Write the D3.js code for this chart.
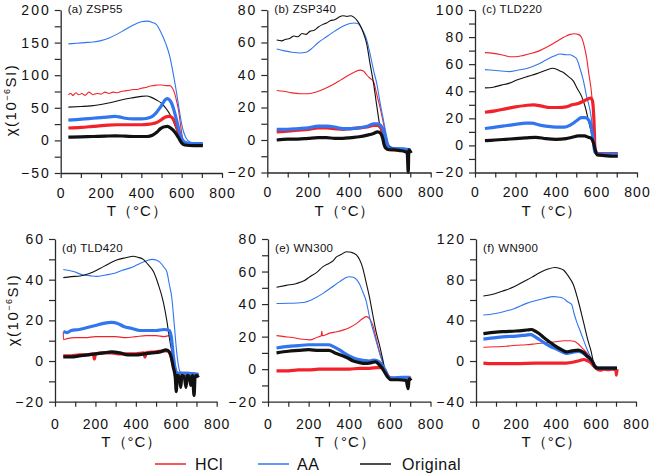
<!DOCTYPE html>
<html><head><meta charset="utf-8">
<script src="https://cdn.jsdelivr.net/npm/d3@7"></script>
<style>
body{margin:0;background:#fff}
svg{display:block}
text{font-family:"Liberation Sans",Arial,sans-serif;fill:#111}
</style>
</head><body>
<svg id="chart" width="651" height="476"></svg>
<script>
// ---------- data: [temperature °C, susceptibility 10^-6 SI] ----------
const seriesNames = ["HCl", "AA", "Original"];
const seriesColors = ["#f2222a", "#3176ee", "#111111"];
const xTickValues = [0, 100, 200, 300, 400, 500, 600, 700, 800];
const xTickLabels = ["0", "", "200", "", "400", "", "600", "", "800"];
const panelTitles = ["(a) ZSP55", "(b) ZSP340", "(c) TLD220", "(d) TLD420", "(e) WN300", "(f) WN900"];
const yDomains = [[-50, 200], [-20, 80], [-20, 100], [-20, 60], [-20, 80], [-40, 120]];
const yMajorSteps = [50, 20, 20, 20, 20, 40];

// (a) ZSP55
const aHclThin = [[38,70],[50,72],[60,69],[75,73],[90,70],[105,72],[120,69],[140,74],[160,70],[180,72],[200,71],[220,74],[240,72],[260,74],[280,73],[300,75],[320,76],[340,77],[360,78],[380,78],[400,80],[420,81],[440,83],[460,84],[480,85],[500,85],[520,84],[540,84],[555,80],[565,72],[575,60],[585,45],[595,22],[605,3],[615,-3],[640,-5],[680,-6],[705,-6]];
const aAaThin = [[38,148],[80,149],[120,150],[160,151],[200,153],[240,157],[280,163],[320,170],[360,177],[400,182],[430,183],[455,181],[474,178],[495,167],[523,147],[540,130],[556,106],[572,78],[589,45],[602,22],[614,9],[630,0],[655,-4],[705,-6]];
const aOrigThin = [[38,51],[100,52],[150,53],[200,55],[250,58],[300,62],[350,65],[400,67.5],[425,68],[450,66],[475,62],[500,57],[520,50],[540,41],[555,32],[570,20],[585,8],[600,-2],[615,-6],[650,-7],[705,-8]];
const aHclThick = [[38,19],[100,20],[160,21.5],[220,23],[280,24],[340,24],[400,24],[430,24.5],[460,26],[480,28],[500,32],[520,36],[535,37],[548,36],[560,32],[572,24],[582,14],[592,4],[602,-2],[615,-5],[660,-6],[705,-6]];
const aAaThick = [[38,31],[80,32],[120,33],[160,34],[200,35],[240,36],[270,37],[290,36],[320,34],[360,33],[400,33],[430,34],[450,36],[470,41],[490,49],[505,56],[518,62],[528,64],[540,62],[550,57],[560,48],[570,37],[580,24],[590,12],[600,3],[612,-2],[630,-4],[670,-5],[705,-5]];
const aOrigThick = [[38,5],[100,5.5],[160,6],[220,6.5],[270,7],[320,6.5],[380,6],[430,6],[455,8],[475,12],[495,18],[515,21],[530,21.5],[545,19],[560,15],[575,9],[590,1],[600,-4],[615,-7],[660,-8],[705,-8]];

// (b) ZSP340
const bHclThin = [[46,30.5],[80,30],[120,29],[160,28.5],[200,28.5],[240,29.5],[280,31.5],[320,34],[360,37],[400,40],[430,42],[455,43],[470,42.5],[487,40],[503,38],[520,36],[536,28],[552,20],[569,10],[585,0],[600,-4],[620,-5],[700,-5.5]];
const bAaThin = [[46,56],[80,55],[120,54],[160,53.5],[190,54],[220,56.5],[250,60],[290,63.5],[330,67],[370,70],[400,71.5],[425,72],[445,71.5],[460,69],[475,65.5],[487,61.5],[505,52],[520,43],[536,34.7],[552,23],[569,12],[585,2],[595,-3],[610,-4.5],[650,-5],[700,-5.5]];
const bOrigThin = [[46,61.5],[70,61],[90,62],[110,62.5],[130,64],[150,63.5],[170,65.5],[190,65],[210,67],[230,67.5],[250,69.5],[270,71],[290,72],[310,73.5],[330,74],[350,75.5],[370,76.5],[390,76],[410,76.5],[425,75.5],[440,73.5],[455,70.5],[470,66],[487,59],[503,47],[520,35],[536,21],[552,8],[565,2],[577,-2],[590,-4],[620,-5],[660,-5.5],[700,-6]];
const bHclThick = [[46,5],[100,5.5],[150,6],[200,6.5],[250,7.5],[290,7.5],[330,7],[370,6.5],[410,7],[450,7.5],[490,8],[520,9],[540,9],[555,7.5],[568,4],[578,-1],[588,-4.5],[600,-6],[700,-6.5]];
const bAaThick = [[46,6.5],[100,6.5],[150,7],[200,7.5],[250,8.5],[290,8.5],[330,8],[370,7],[410,7],[450,7.5],[490,8.5],[520,10],[540,10],[555,9],[568,6],[578,0],[588,-4],[600,-5.5],[650,-5.5],[700,-6]];
const bOrigThick = [[46,0],[100,0.5],[150,0.5],[200,1],[250,1.5],[290,1.5],[330,1],[370,1],[410,1.5],[450,2],[490,3],[520,4],[540,5],[555,4],[565,1],[572,-3],[580,-5],[595,-6],[620,-6],[650,-6.5],[670,-7],[685,-8],[690,-20],[693,-6],[700,-7],[705,-8]];

// (c) TLD220
const cHclThin = [[49,68.5],[90,68],[130,67],[170,65.5],[200,65.5],[240,66.5],[280,68],[320,70],[360,73],[400,76.5],[440,80],[470,82],[490,82.5],[510,82],[525,80],[540,73],[551,65],[563,52],[576,38],[585,20],[593,-4],[605,-6],[650,-6],[705,-6]];
const cAaThin = [[49,56],[90,55.5],[130,55],[170,54.5],[210,55.5],[260,57],[305,59.5],[350,63],[390,66],[420,67.5],[450,67],[470,67],[490,65.5],[502,64],[518,57],[535,48],[550,37],[568,26],[580,14],[592,-3],[605,-6.5],[650,-6.5],[705,-6]];
const cOrigThin = [[49,42.5],[90,43],[130,44.5],[170,46],[210,48.5],[260,51],[305,53],[350,55.5],[385,57],[400,56.5],[420,55],[440,53.5],[460,51],[486,47.5],[505,42],[527,36],[545,28],[560,18.5],[575,9],[585,2],[595,-5],[610,-7],[660,-7.5],[705,-8]];
const cHclThick = [[49,24.5],[100,25.5],[150,27],[200,28.5],[250,29.5],[290,30],[330,29],[370,28],[410,28],[450,28.5],[480,30],[510,31],[540,33],[560,34.5],[572,35],[580,33],[587,20],[593,-3],[605,-6],[650,-6],[705,-6]];
const cAaThick = [[49,12.5],[100,13.5],[150,14.5],[200,15.5],[250,16.5],[280,16.5],[320,15],[360,14],[400,13.5],[440,13.5],[470,15],[500,18],[525,20.5],[545,20.5],[560,19],[572,15],[582,6],[592,-5],[605,-6.5],[650,-6.5],[705,-6.5]];
const cOrigThick = [[49,3.5],[100,4],[150,4.5],[200,5],[250,5.5],[300,6],[350,5],[400,4.5],[450,5],[480,6],[510,7],[540,7],[560,6],[575,5],[585,2],[595,-4],[603,-7],[640,-7.5],[680,-8],[705,-8]];

// (d) TLD420
const dHclThin = [[41,14],[42,10.5],[60,11],[100,11.5],[150,11.5],[200,12],[250,12],[300,12],[350,11.5],[400,12],[450,12.5],[500,12.5],[540,12],[565,12.5],[575,10],[585,3],[595,-3],[605,-6],[660,-6],[710,-6.5]];
const dAaThin = [[41,45],[91,44],[140,42.3],[170,42],[206,41.6],[250,42.3],[289,43],[330,44.5],[388,46.4],[420,48],[454,49.3],[480,50],[503,49.5],[520,48.5],[540,46],[553,44],[565,38],[578,31],[590,18],[602,4.5],[612,-3],[622,-5.5],[660,-6],[710,-6.5]];
const dOrigThin = [[41,41],[80,41.5],[124,41.8],[170,43],[223,45.5],[260,47.5],[305,49.7],[350,50.8],[388,51.5],[410,51],[437,50],[460,47.5],[487,44],[510,38],[536,29],[553,20],[569,9.4],[582,3],[594,-2],[605,-6],[620,-7],[660,-7],[700,-7]];
const dHclThick = [[41,2.5],[80,2.5],[120,3],[160,3],[190,3.5],[195,1],[200,3.5],[240,4],[280,4],[320,3.5],[360,3.5],[400,3.5],[440,4],[445,2],[450,4],[500,4.5],[540,5],[560,5],[572,3],[585,-2],[595,-5],[605,-6],[660,-6],[710,-7]];
const dAaThick = [[41,14.5],[60,14],[80,15],[120,15.5],[160,16.5],[200,17.5],[240,18.5],[280,19],[310,18.5],[340,17],[380,16],[420,15],[460,15],[500,15],[540,15.5],[565,15],[575,12],[585,3],[595,-4],[605,-6],[650,-6],[710,-6.5]];
const dOrigThick = [[41,2],[80,2],[120,2.5],[160,3],[200,3.5],[240,4],[280,4.5],[320,4],[360,3],[400,3],[440,3.5],[480,4],[520,4.5],[550,5.5],[565,4.5],[575,2],[585,-3],[595,-8],[600,-15],[605,-7],[615,-8],[622,-13],[628,-7],[640,-8],[648,-13],[655,-7],[665,-8],[672,-12],[680,-7],[688,-17],[693,-8],[700,-7],[710,-8]];

// (e) WN300
const eHclThin = [[42,20.6],[80,20],[120,19.5],[160,18.5],[206,18],[240,19.5],[262,20.5],[265,23.5],[268,20.5],[300,22],[340,23],[369,24],[400,25.5],[435,28],[460,30.5],[484,32.3],[500,31],[516,27],[532,19],[549,10.7],[565,4],[582,-3.6],[600,-5.5],[700,-6]];
const eAaThin = [[42,40.4],[100,40.5],[173,41],[220,43],[271,46.6],[310,50],[353,53.8],[380,56],[402,56.8],[420,56.5],[435,55.2],[450,52.5],[465,48],[484,41.5],[500,32],[516,24.5],[533,17],[550,9.5],[565,4],[582,-3],[600,-5.5],[650,-6],[700,-6]];
const eOrigThin = [[42,50.3],[90,51.5],[141,52.7],[180,54.5],[206,56.8],[240,59.5],[271,63],[300,65],[320,66.5],[337,69],[360,70.5],[386,72.2],[410,71.8],[435,70.2],[450,67.5],[467,62],[480,55],[500,44],[516,33.3],[532,23],[549,14.8],[565,6],[582,-3.6],[600,-6],[640,-6],[700,-6.5]];
const eHclThick = [[42,-1],[100,-1],[150,-0.5],[200,-0.5],[250,0],[300,0],[350,0],[400,0],[450,0.5],[500,0.5],[540,1],[560,1],[575,-0.5],[590,-4],[605,-5.5],[650,-5.5],[705,-5.5]];
const eAaThick = [[42,13],[100,14],[150,14.5],[200,15],[250,15],[300,15],[320,14],[350,12],[380,9.5],[410,7.5],[440,6],[470,5.5],[500,5],[520,5.5],[540,5],[555,3.5],[570,1],[582,-2],[595,-5],[620,-5.5],[660,-5],[700,-5]];
const eOrigThick = [[42,10],[100,11],[150,11.5],[200,12],[250,11.5],[300,11.5],[330,10],[360,8.5],[390,7],[420,5],[450,4],[480,3.5],[510,4],[530,4.5],[545,3],[560,1],[575,-2],[590,-5],[605,-6.5],[640,-6.5],[680,-7],[690,-12],[695,-6],[705,-7]];

// (f) WN900
const fHclThin = [[37,13.5],[100,14],[150,14.5],[200,15.5],[250,16],[300,17],[350,18],[400,19],[440,20],[470,20],[490,19.5],[510,17],[530,13],[550,9],[565,5],[580,1],[595,-4],[610,-7],[705,-7]];
const fAaThin = [[37,45.2],[90,46.5],[137,48.5],[190,51.5],[253,56.7],[300,59.5],[340,61.5],[387,63.3],[410,63],[437,61.6],[460,58],[478,55.7],[490,47],[503,38.7],[520,30],[537,21],[553,12.5],[570,5],[585,-1],[595,-5.6],[620,-7],[705,-7]];
const fOrigThin = [[37,64],[90,66],[137,69],[190,73],[237,78],[280,82.5],[320,87],[360,90.5],[395,92],[420,91],[437,89.5],[460,84],[487,75],[510,60],[537,38.7],[560,20],[575,10],[587,-0.7],[600,-7],[640,-7],[705,-7]];
const fHclThick = [[37,-2],[80,-2.5],[150,-2.5],[200,-2.5],[300,-2],[400,-2],[450,-2],[490,-1],[520,0.5],[540,1.5],[555,0.5],[570,-1],[585,-4],[600,-7],[620,-9],[640,-8],[660,-8.5],[680,-8],[700,-9],[702,-14],[705,-8]];
const fAaThick = [[37,21.5],[100,23],[150,24],[200,24.5],[250,25.5],[275,26],[290,24.5],[310,22],[340,18],[370,14.5],[400,12],[430,9],[455,7.5],[480,8.5],[510,9.5],[530,8.5],[550,5.5],[565,3],[580,0],[595,-5],[610,-7],[705,-7]];
const fOrigThick = [[37,27],[100,28.5],[150,29],[200,29.5],[253,30.5],[278,31],[295,29.5],[315,27],[340,23],[370,18.5],[403,14],[430,11],[453,9],[480,10],[512,10.8],[537,8.5],[555,5],[570,2.6],[583,-1],[595,-5.6],[610,-7],[650,-7],[705,-7]];

const panelSeries = [
  [aHclThin, aAaThin, aOrigThin, aHclThick, aAaThick, aOrigThick],
  [bHclThin, bAaThin, bOrigThin, bHclThick, bAaThick, bOrigThick],
  [cHclThin, cAaThin, cOrigThin, cHclThick, cAaThick, cOrigThick],
  [dHclThin, dAaThin, dOrigThin, dHclThick, dAaThick, dOrigThick],
  [eHclThin, eAaThin, eOrigThin, eHclThick, eAaThick, eOrigThick],
  [fHclThin, fAaThin, fOrigThin, fHclThick, fAaThick, fOrigThick]
];

// ---------- layout ----------
const layout = [
  {x0: 60.7, x1: 222,   yT: 10,  yB: 173,   titleY: 13},
  {x0: 267.3, x1: 430.7, yT: 10, yB: 172.5, titleY: 13},
  {x0: 475,  x1: 637,   yT: 10,  yB: 172.5, titleY: 13},
  {x0: 55,   x1: 216.7, yT: 239, yB: 401.7, titleY: 252},
  {x0: 268,  x1: 430.5, yT: 239, yB: 401.7, titleY: 252},
  {x0: 476,  x1: 636,   yT: 239, yB: 401.7, titleY: 252}
];

const svg = d3.select("#chart");
const axisColor = "#2a2a2a";

layout.forEach((L, i) => {
  const x = d3.scaleLinear().domain([0, 800]).range([L.x0, L.x1]);
  const y = d3.scaleLinear().domain(yDomains[i]).range([L.yB, L.yT]);
  const g = svg.append("g");

  // lines
  const line = d3.line().x(d => x(d[0])).y(d => y(d[1])).curve(d3.curveMonotoneX);
  panelSeries[i].forEach((data, k) => {
    const thick = k >= 3;
    g.append("path").datum(data)
      .attr("d", line)
      .attr("fill", "none")
      .attr("stroke", seriesColors[k % 3])
      .attr("stroke-width", thick ? 3.2 : 1.1)
      .attr("stroke-linejoin", "round");
  });

  // y axis
  const [ymin, ymax] = yDomains[i];
  const minor = yMajorSteps[i] / 2;
  const yTicks = d3.range(ymin, ymax + 0.001, minor);
  const yAxis = d3.axisLeft(y).tickValues(yTicks)
    .tickFormat(d => (Math.abs(d % yMajorSteps[i]) < 1e-9 ? (d < 0 ? "\u2212" + Math.abs(d) : d) : ""))
    .tickSize(6).tickSizeOuter(0).tickPadding(4);
  const ya = g.append("g").attr("transform", `translate(${L.x0},0)`).call(yAxis);
  ya.selectAll("text").style("font-size", "14px").attr("letter-spacing", "2px");

  // x axis
  const xAxis = d3.axisBottom(x).tickValues(xTickValues)
    .tickFormat((d, j) => xTickLabels[j]).tickSize(5).tickSizeOuter(0)
    .tickPadding(i < 3 ? 10 : 12);
  const xa = g.append("g").attr("transform", `translate(0,${L.yB})`).call(xAxis);
  xa.selectAll("text").style("font-size", "14px").attr("letter-spacing", "1px");

  [ya, xa].forEach(a => {
    a.select(".domain").attr("stroke", axisColor).attr("stroke-width", 1.3);
    a.selectAll(".tick line").attr("stroke", axisColor).attr("stroke-width", 1.2);
    a.selectAll("text").style("fill", "#111").style("font-family", "'Liberation Sans', Arial, sans-serif");
  });

  // panel title
  g.append("text").attr("x", L.x0 + 7).attr("y", L.titleY)
    .style("font-size", "11.5px").attr("letter-spacing", "0.3px")
    .text(panelTitles[i]);

  // x label
  g.append("text").attr("x", (L.x0 + L.x1) / 2 - 4).attr("y", i < 3 ? 216 : 447)
    .attr("text-anchor", "middle").style("font-size", "15px")
    .attr("letter-spacing", "1px")
    .text("T\uFF08\u00B0C\uFF09");

  // y label (left column only)
  if (i === 0 || i === 3) {
    const cy = i === 0 ? 100 : 310;
    const cx = i === 0 ? 16 : 18;
    const t = g.append("text")
      .attr("transform", `translate(${cx},${cy}) rotate(-90)`)
      .attr("text-anchor", "middle").style("font-size", "15px")
      .attr("letter-spacing", "1.5px");
    t.append("tspan").text("\u03C7(10");
    t.append("tspan").attr("dy", "-6").style("font-size", "9px").text("\u2212" + "6");
    t.append("tspan").attr("dy", "6").text("SI)");
  }
});

// legend
const legendX = [155, 258, 360];
const legendTextX = [195, 297, 402];
seriesNames.forEach((name, k) => {
  svg.append("line").attr("x1", legendX[k]).attr("x2", legendX[k] + 31)
    .attr("y1", 464).attr("y2", 464)
    .attr("stroke", seriesColors[k]).attr("stroke-width", 1.5);
  svg.append("text").attr("x", legendTextX[k]).attr("y", 470)
    .style("font-size", "16px").attr("letter-spacing", "0.5px").text(name);
});
</script>
</body></html>
